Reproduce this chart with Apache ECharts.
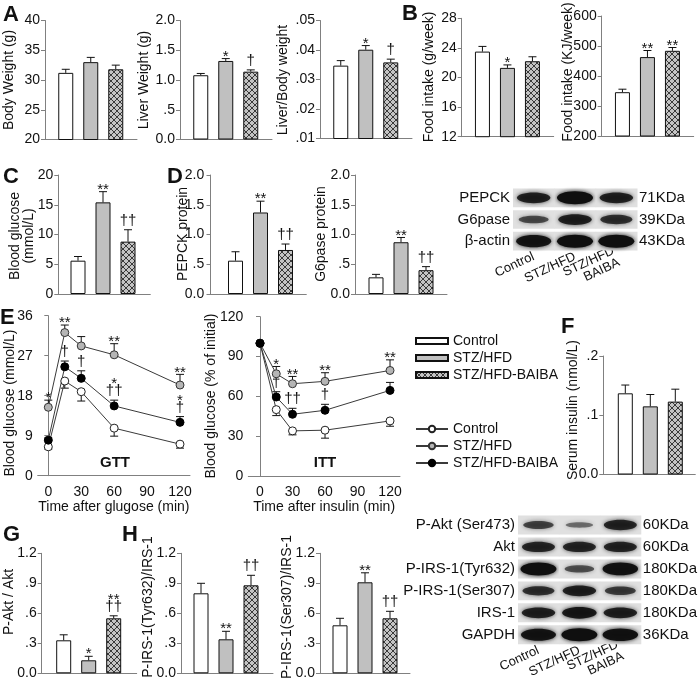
<!DOCTYPE html>
<html><head><meta charset="utf-8">
<script src="https://cdn.jsdelivr.net/npm/echarts@6/dist/echarts.min.js"></script>
<style>html,body{margin:0;padding:0;background:#fff}#c{width:700px;height:686px}</style>
</head><body><div id="c"></div>
<script>
// ---------------- DATA ----------------
const groups = ['Control', 'STZ/HFD', 'STZ/HFD-BAIBA'];
const barX = [1, 2, 3];
// A
const bodyWeight = [31.2, 33.0, 31.8];
const bodyWeightErr = [0.6, 0.8, 0.7];
const bodyWeightSig = ['', '', ''];
const liverWeight = [1.08, 1.32, 1.14];
const liverWeightErr = [0.03, 0.04, 0.03];
const liverWeightSig = ['', '*', '†'];
const liverBodyRatio = [0.0347, 0.0401, 0.0358];
const liverBodyRatioErr = [0.0017, 0.0014, 0.0011];
const liverBodyRatioSig = ['', '*', '†'];
// B
const foodIntakeG = [23.5, 21.3, 22.2];
const foodIntakeGErr = [0.7, 0.4, 0.6];
const foodIntakeGSig = ['', '*', ''];
const foodIntakeKJ = [346, 463, 484];
const foodIntakeKJErr = [10, 22, 11];
const foodIntakeKJSig = ['', '**', '**'];
// C
const bloodGlucose = [5.6, 15.4, 8.8];
const bloodGlucoseErr = [0.7, 1.8, 2.0];
const bloodGlucoseSig = ['', '**', '††'];
// D
const pepckProtein = [0.56, 1.37, 0.74];
const pepckProteinErr = [0.15, 0.19, 0.10];
const pepckProteinSig = ['', '**', '††'];
const g6paseProtein = [0.28, 0.87, 0.40];
const g6paseProteinErr = [0.05, 0.08, 0.06];
const g6paseProteinSig = ['', '**', '††'];
// E
const timeMin = [0, 15, 30, 60, 120];
const timeTicks = [0, 30, 60, 90, 120];
const gttControl = [6.5, 21.3, 18.9, 10.7, 7.1];
const gttControlErr = [-0.5, -1.6, -2.1, -1.8, -0.9];
const gttSTZ = [15.4, 32.2, 29.2, 27.2, 20.4];
const gttSTZErr = [1.6, 1.7, 2.1, 2.5, 2.4];
const gttSTZSig = ['*', '**', '', '**', '**'];
const gttBAIBA = [8.0, 24.5, 21.9, 15.7, 12.0];
const gttBAIBAErr = [0.5, 1.3, 1.7, 1.3, 1.3];
const gttBAIBASig = ['', '†', '†', '*\n††', '*\n†'];
const ittControl = [100, 50, 34, 34.5, 41.5];
const ittControlErr = [0, -4.5, -3.0, -6.0, -4.0];
const ittSTZ = [100, 77, 69.5, 71.3, 79.5];
const ittSTZErr = [0, 5.5, 5.5, 6.5, 8.0];
const ittSTZSig = ['', '*', '**', '**', '**'];
const ittBAIBA = [100, 59.5, 46.5, 49.5, 64.5];
const ittBAIBAErr = [0, 4.0, 4.5, 4.5, 6.0];
const ittBAIBASig = ['', '†', '††', '†', ''];
// F
const serumInsulin = [0.137, 0.115, 0.123];
const serumInsulinErr = [0.014, 0.02, 0.021];
const serumInsulinSig = ['', '', ''];
// G, H
const pAktRatio = [0.33, 0.13, 0.55];
const pAktRatioErr = [0.055, 0.04, 0.025];
const pAktRatioSig = ['', '*', '**\n††'];
const pIrsTyrRatio = [0.80, 0.34, 0.88];
const pIrsTyrRatioErr = [0.10, 0.08, 0.10];
const pIrsTyrRatioSig = ['', '**', '††'];
const pIrsSerRatio = [0.48, 0.91, 0.55];
const pIrsSerRatioErr = [0.07, 0.095, 0.07];
const pIrsSerRatioSig = ['', '**', '††'];
// Western blots (relative band density per row, per lane)
const blotLanes = ['Control', 'STZ/HFD', 'STZ/HFD\nBAIBA'];
const blotTopRows = ['PEPCK', 'G6pase', 'β-actin'];
const blotTopKDa = ['71KDa', '39KDa', '43KDa'];
const blotTopDensity = [[0.75, 1.0, 0.75], [0.4, 0.75, 0.6], [0.9, 1.0, 1.0]];
const blotBottomRows = ['P-Akt (Ser473)', 'Akt', 'P-IRS-1(Tyr632)', 'P-IRS-1(Ser307)', 'IRS-1', 'GAPDH'];
const blotBottomKDa = ['60KDa', '60KDa', '180KDa', '180KDa', '180KDa', '36KDa'];
const blotBottomDensity = [[0.45, 0.15, 0.7], [0.7, 0.7, 0.7], [1.0, 0.35, 0.95], [0.6, 0.75, 0.5], [0.75, 0.85, 0.75], [0.9, 1.0, 0.95]];

// ---------------- BUILD ----------------
const FONT = '"Liberation Sans", Arial, sans-serif';
const AXIS_COLOR = '#808080';
const TXT = '#111';
const grids = [], xAxes = [], yAxes = [], series = [], graphics = [];

function makeHatch() {
  const c = document.createElement('canvas');
  c.width = 6; c.height = 6;
  const g = c.getContext('2d');
  g.fillStyle = '#c4c4c4'; g.fillRect(0, 0, 6, 6);
  g.strokeStyle = '#2a2a2a'; g.lineWidth = 0.9;
  g.beginPath(); g.moveTo(0, 0); g.lineTo(6, 6); g.moveTo(6, 0); g.lineTo(0, 6); g.stroke();
  return c;
}
const hatchImg = makeHatch();
const barStyles = [
  { color: '#ffffff', borderColor: '#111', borderWidth: 1 },
  { color: '#c0c0c0', borderColor: '#111', borderWidth: 1 },
  { color: { image: hatchImg, repeat: 'repeat' }, borderColor: '#111', borderWidth: 1 }
];
function fmt(dec) {
  return v => { let s = (+v).toFixed(dec); if (Math.abs(v) > 1e-9 && Math.abs(v) < 1) s = s.replace(/^(-?)0\./, '$1.'); return s; };
}
function txt(text, x, y, font, align, valign, fill) {
  return { text, x, y, font, fill: fill || TXT, align, verticalAlign: valign, textAlign: align, textVerticalAlign: valign };
}
function sigChildren(sig, cx, topY) {
  const out = [];
  const lines = sig.split('\n');
  let vc = null;
  for (let k = lines.length - 1; k >= 0; k--) {
    const ln = lines[k];
    const star = ln.indexOf('*') >= 0;
    if (vc === null) vc = topY - (star ? 6 : 9);
    else vc -= 11;
    out.push({ type: 'text', style: txt(ln, cx, vc + (star ? 4 : 0), '15px ' + FONT, 'center', 'middle') });
  }
  return out;
}
function errRender(sigs, cap) {
  return function (params, api) {
    const x = api.value(0), v = api.value(1), e = api.value(2);
    const p0 = api.coord([x, v]), p1 = api.coord([x, e]);
    const children = [];
    if (Math.abs(p1[1] - p0[1]) > 0.5) {
      children.push({ type: 'line', shape: { x1: p0[0], y1: p0[1], x2: p1[0], y2: p1[1] }, style: { stroke: '#111', lineWidth: 1 } });
      children.push({ type: 'line', shape: { x1: p1[0] - cap, y1: p1[1], x2: p1[0] + cap, y2: p1[1] }, style: { stroke: '#111', lineWidth: 1 } });
    }
    const s = sigs && sigs[params.dataIndex];
    if (s) sigChildren(s, p1[0], Math.min(p0[1], p1[1])).forEach(c => children.push(c));
    return { type: 'group', children };
  };
}
function yAxisCfg(gi, min, max, interval, dec) {
  return {
    gridIndex: gi, type: 'value', min, max, interval,
    axisLine: { show: true, lineStyle: { color: AXIS_COLOR } },
    axisTick: { show: true, inside: false, length: 4, lineStyle: { color: AXIS_COLOR } },
    axisLabel: { formatter: fmt(dec), fontSize: 14, color: TXT, fontFamily: FONT, margin: 5 },
    splitLine: { show: false }
  };
}
function barPanel(p, values, errs, sigs) {
  const gi = grids.length;
  const off = p.off ?? 20.75, w = p.width ?? 92;
  const xmin = 1 - off / 25, xmax = xmin + w / 25;
  grids.push({ left: p.left, top: p.top, width: w, height: p.height });
  xAxes.push({ gridIndex: gi, type: 'value', min: xmin, max: xmax,
    axisLine: { show: true, onZero: false, lineStyle: { color: AXIS_COLOR } }, axisTick: { show: false },
    axisLabel: { show: false }, splitLine: { show: false } });
  yAxes.push(yAxisCfg(gi, p.min, p.max, p.interval, p.dec));
  groups.forEach((g, i) => {
    series.push({ type: 'bar', name: g, xAxisIndex: gi, yAxisIndex: gi, barWidth: 15, barGap: '-100%',
      itemStyle: barStyles[i], data: [[barX[i], values[i]]], silent: true, z: 2 });
  });
  series.push({ type: 'custom', xAxisIndex: gi, yAxisIndex: gi, z: 4, silent: true,
    data: values.map((v, i) => [barX[i], v, v + errs[i]]), renderItem: errRender(sigs, 4) });
  if (p.title) graphics.push({ type: 'text', x: p.title[1], y: p.title[2], rotation: Math.PI / 2,
    style: txt(p.title[0], 0, 0, '14px ' + FONT, 'center', 'middle') });
}
const lineStyles = [
  { color: '#ffffff', borderColor: '#222', borderWidth: 1 },
  { color: '#b5b5b5', borderColor: '#333', borderWidth: 1 },
  { color: '#000000', borderColor: '#000', borderWidth: 1 }
];
function linePanel(p, sets) {
  const gi = grids.length;
  grids.push({ left: p.left, top: p.top, width: p.width, height: p.height });
  xAxes.push({ gridIndex: gi, type: 'value', min: p.xmin, max: p.xmax,
    axisLine: { show: true, onZero: false, lineStyle: { color: AXIS_COLOR } },
    axisTick: { show: false },
    axisLabel: { customValues: timeTicks, fontSize: 14, color: TXT, fontFamily: FONT, margin: 9 },
    splitLine: { show: false },
    name: p.xname, nameLocation: 'middle', nameGap: 24,
    nameTextStyle: { fontSize: 14, color: TXT, fontFamily: FONT } });
  yAxes.push(yAxisCfg(gi, p.min, p.max, p.interval, 0));
  sets.forEach((s, i) => {
    series.push({ type: 'custom', xAxisIndex: gi, yAxisIndex: gi, z: 1, silent: true,
      data: s.values.map((v, k) => [timeMin[k], v, v + s.errs[k]]), renderItem: errRender(s.sigs, 4) });
  });
  sets.forEach((s, i) => {
    series.push({ type: 'line', name: groups[i] + ' ', xAxisIndex: gi, yAxisIndex: gi, z: 3,
      symbol: 'circle', symbolSize: 8, showAllSymbol: true,
      itemStyle: lineStyles[i], lineStyle: { color: '#3a3a3a', width: 1 },
      data: s.values.map((v, k) => [timeMin[k], v]), silent: true });
  });
  graphics.push({ type: 'text', x: p.title[1], y: p.title[2], rotation: Math.PI / 2,
    style: txt(p.title[0], 0, 0, '14px ' + FONT, 'center', 'middle') });
  graphics.push({ type: 'text', x: p.tag[1], y: p.tag[2],
    style: txt(p.tag[0], 0, 0, 'bold 15px ' + FONT, 'center', 'middle') });
}
function blotPanel(p, rows, kda, density) {
  const gi = grids.length;
  grids.push({ left: p.left, top: p.top, width: p.width, height: p.height });
  xAxes.push({ gridIndex: gi, type: 'category', data: blotLanes,
    axisLine: { show: false }, axisTick: { show: false },
    axisLabel: { interval: 0, rotate: 25, fontSize: 13, color: TXT, fontFamily: FONT, margin: 4, lineHeight: 13 } });
  const yi = yAxes.length;
  yAxes.push({ gridIndex: gi, type: 'category', data: rows, inverse: true, position: 'left',
    axisLine: { show: false }, axisTick: { show: false },
    axisLabel: { fontSize: 15, color: TXT, fontFamily: FONT, margin: 3 } });
  yAxes.push({ gridIndex: gi, type: 'category', data: kda, inverse: true, position: 'right',
    axisLine: { show: false }, axisTick: { show: false },
    axisLabel: { fontSize: 15, color: TXT, fontFamily: FONT, margin: 2 } });
  const data = [];
  density.forEach((row, r) => row.forEach((d, l) => data.push([l, r, d])));
  series.push({ type: 'custom', xAxisIndex: gi, yAxisIndex: yi, silent: true, data,
    renderItem: function (params, api) {
      const c = api.coord([api.value(0), api.value(1)]);
      const sz = api.size([1, 1]);
      const d = api.value(2);
      const a = 0.4 + 0.6 * d;
      return { type: 'group', children: [
        { type: 'rect', shape: { x: c[0] - sz[0] / 2, y: c[1] - sz[1] / 2 + 1.5, width: sz[0] + 0.5, height: sz[1] - 3 },
          style: { fill: '#e0e0e0' } },
        { type: 'ellipse', shape: { cx: c[0], cy: c[1], rx: 13 + 5 * d, ry: 2 + 4.5 * d },
          style: { fill: 'rgba(15,15,15,' + a + ')', shadowBlur: 4, shadowColor: 'rgba(15,15,15,' + a + ')' } }
      ] };
    } });
}

// Panels
barPanel({ left: 45, top: 20.5, height: 119, min: 20, max: 40, interval: 5, dec: 0, title: ['Body Weight (g)', 9, 80] }, bodyWeight, bodyWeightErr, bodyWeightSig);
barPanel({ left: 180, top: 20.5, height: 119, min: 0, max: 2, interval: 0.5, dec: 1, title: ['Liver Weight (g)', 144, 80] }, liverWeight, liverWeightErr, liverWeightSig);
barPanel({ left: 320, top: 20.5, height: 118, min: 0.01, max: 0.05, interval: 0.01, dec: 2, title: ['Liver/Body weight', 283, 80] }, liverBodyRatio, liverBodyRatioErr, liverBodyRatioSig);
barPanel({ left: 461.7, top: 18.3, height: 118.4, min: 12, max: 28, interval: 4, dec: 0, title: ['Food intake (g/week)', 429, 77] }, foodIntakeG, foodIntakeGErr, foodIntakeGSig);
barPanel({ left: 601.7, top: 16, height: 120, min: 200, max: 600, interval: 100, dec: 0, title: ['Food intake (KJ/week)', 568, 72] }, foodIntakeKJ, foodIntakeKJErr, foodIntakeKJSig);
barPanel({ left: 58.3, off: 19.7, top: 175, height: 119, min: 0, max: 20, interval: 5, dec: 0, title: ['Blood glucose\n(mmol/L)', 22, 236] }, bloodGlucose, bloodGlucoseErr, bloodGlucoseSig);
barPanel({ left: 209.3, off: 26.2, width: 97, top: 175, height: 119, min: 0, max: 2, interval: 0.5, dec: 1, title: ['PEPCK protein', 183, 234] }, pepckProtein, pepckProteinErr, pepckProteinSig);
barPanel({ left: 355, off: 21, top: 175, height: 119, min: 0, max: 2, interval: 0.5, dec: 1, title: ['G6pase protein', 321, 234] }, g6paseProtein, g6paseProteinErr, g6paseProteinSig);
barPanel({ left: 603.3, off: 22, top: 356, height: 118.5, min: 0, max: 0.2, interval: 0.1, dec: 1, title: ['Serum insulin (nmol/L)', 573, 410] }, serumInsulin, serumInsulinErr, serumInsulinSig);
barPanel({ left: 41.7, off: 22, width: 95, top: 553.3, height: 120, min: 0, max: 1.2, interval: 0.3, dec: 1, title: ['P-Akt / Akt', 9, 602] }, pAktRatio, pAktRatioErr, pAktRatioSig);
barPanel({ left: 181, off: 20, top: 553.3, height: 120, min: 0, max: 1.2, interval: 0.3, dec: 1, title: ['P-IRS-1(Tyr632)/IRS-1', 148, 607] }, pIrsTyrRatio, pIrsTyrRatioErr, pIrsTyrRatioSig);
barPanel({ left: 320, off: 20, width: 90, top: 553.3, height: 120, min: 0, max: 1.2, interval: 0.3, dec: 1, title: ['P-IRS-1(Ser307)/IRS-1', 287, 607] }, pIrsSerRatio, pIrsSerRatioErr, pIrsSerRatioSig);

linePanel({ left: 37.7, top: 315.7, width: 152.3, height: 160, xmin: -9.66, xmax: 129.1, min: 0, max: 36, interval: 9,
  xname: 'Time after glugose (min)', title: ['Blood glucose (mmol/L)', 10, 403], tag: ['GTT', 115, 463] }, [
  { values: gttControl, errs: gttControlErr, sigs: null },
  { values: gttSTZ, errs: gttSTZErr, sigs: gttSTZSig },
  { values: gttBAIBA, errs: gttBAIBAErr, sigs: gttBAIBASig }]);
linePanel({ left: 248.3, top: 316.7, width: 151.7, height: 159.3, xmin: -10.8, xmax: 129.2, min: 0, max: 120, interval: 30,
  xname: 'Time after insulin (min)', title: ['Blood glucose (% of initial)', 211, 396], tag: ['ITT', 325, 463] }, [
  { values: ittControl, errs: ittControlErr, sigs: null },
  { values: ittSTZ, errs: ittSTZErr, sigs: ittSTZSig },
  { values: ittBAIBA, errs: ittBAIBAErr, sigs: ittBAIBASig }]);

blotPanel({ left: 513, top: 187, width: 124, height: 65 }, blotTopRows, blotTopKDa, blotTopDensity);
blotPanel({ left: 518, top: 514, width: 124, height: 144 }, blotBottomRows, blotBottomKDa, blotBottomDensity);

// Panel letters
[['A', 3, 15], ['B', 402, 14], ['C', 3, 177], ['D', 167, 177], ['E', 0, 318], ['F', 561, 327], ['G', 3, 535], ['H', 122, 535]]
  .forEach(l => graphics.push({ type: 'text', x: l[1], y: l[2], style: txt(l[0], 0, 0, 'bold 22px ' + FONT, 'left', 'middle') }));

const chart = echarts.init(document.getElementById('c'), null, { renderer: 'canvas' });
chart.setOption({
  animation: false,
  backgroundColor: '#ffffff',
  textStyle: { fontFamily: FONT },
  grid: grids, xAxis: xAxes, yAxis: yAxes, series,
  legend: [
    { data: groups, orient: 'vertical', left: 410, top: 329, itemWidth: 32, itemHeight: 6, itemGap: 3,
      icon: 'rect', selectedMode: false, textStyle: { fontSize: 14, color: TXT, fontFamily: FONT } },
    { data: groups.map(g => g + ' '), orient: 'vertical', left: 410, top: 417, itemWidth: 32, itemHeight: 8, itemGap: 3,
      selectedMode: false, formatter: n => n.trim(), textStyle: { fontSize: 14, color: TXT, fontFamily: FONT } }
  ],
  graphic: graphics
});
</script></body></html>
